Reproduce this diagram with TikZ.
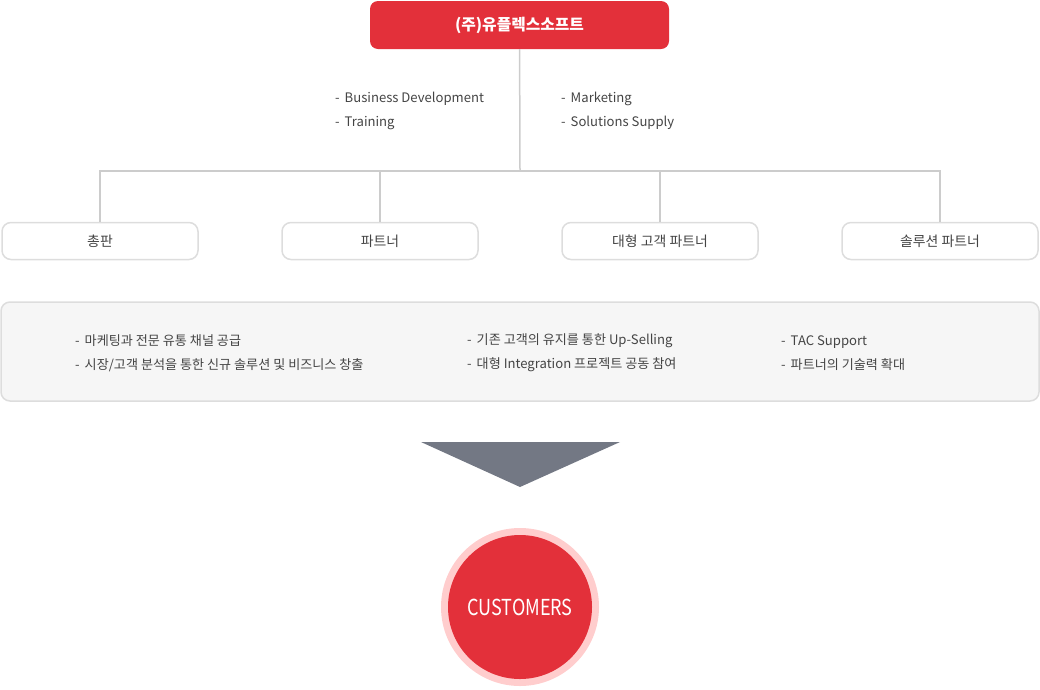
\documentclass[tikz,border=0pt]{standalone}
\usepackage{fontspec}
\setmainfont{Noto Sans CJK KR}
\usetikzlibrary{positioning}
\definecolor{upred}{HTML}{E3303A}
\definecolor{uppink}{HTML}{FFCDCD}
\definecolor{upline}{HTML}{CCCCCC}
\definecolor{upframe}{HTML}{DDDDDD}
\definecolor{uppanel}{HTML}{F6F6F6}
\definecolor{uptext}{HTML}{444444}
\definecolor{uparrow}{HTML}{737884}

\begin{document}
\begin{tikzpicture}[x=1pt, y=-1pt, node distance=280pt,
    headbox/.style={rectangle, rounded corners=8pt, fill=upred, text=white,
      minimum width=299pt, minimum height=48pt, font=\fontsize{15.8}{18}\selectfont\bfseries},
    subbox/.style={rectangle, rounded corners=9pt, draw=upframe, line width=1.5pt, fill=white,
      text=uptext, minimum width=196pt, minimum height=37pt, font=\fontsize{13.9}{16}\selectfont},
    note/.style={anchor=west, text=uptext, align=left, inner sep=0pt,
      font=\fontsize{13.1}{24}\selectfont},
    link/.style={draw=upline, line width=1.5pt}]
  \useasboundingbox (0,0) rectangle (1040,689);

  % company
  \node[headbox] (Uplex) at (519.5,25) {(주)유플렉스소프트};
  \coordinate (Hub) at (520,171);

  % roles
  \node[note] (RoleL) at (335,111) {-\hspace{5pt}Business Development\\-\hspace{5pt}Training};
  \node[note] (RoleR) at (561,111) {-\hspace{5pt}Marketing\\-\hspace{5pt}Solutions Supply};

  % channels
  \node[subbox] (Dist) at (100,241) {총판};
  \node[subbox] (Part) [right of=Dist] {파트너};
  \node[subbox] (Major) [right of=Part] {대형 고객 파트너};
  \node[subbox] (Solu) [right of=Major] {솔루션 파트너};

  \draw[link] (Uplex) -- (Hub);
  \draw[link] (Hub) -| (Dist);
  \draw[link] (Hub) -| (Part);
  \draw[link] (Hub) -| (Major);
  \draw[link] (Hub) -| (Solu);

  % benefits
  \draw[draw=upframe, fill=uppanel, line width=1.5pt, rounded corners=9pt]
    (1,302) rectangle (1039,401);
  \node[note] (BenA) at (75,353) {-\hspace{5pt}마케팅과 전문 유통 채널 공급\\-\hspace{5pt}시장/고객 분석을 통한 신규 솔루션 및 비즈니스 창출};
  \node[note] (BenB) at (467,353) {-\hspace{5pt}기존 고객의 유지를 통한 Up-Selling\\-\hspace{5pt}대형 Integration 프로젝트 공동 참여};
  \node[note] (BenC) at (781,353) {-\hspace{5pt}TAC Support\\-\hspace{5pt}파트너의 기술력 확대};

  % to customers
  \fill[uparrow] (421,442) -- (620,442) -- (520,487) -- cycle;
  \fill[uppink] (520,607) circle (79);
  \node[circle, fill=upred, minimum size=144pt, text=white,
    font=\fontsize{22}{26}\selectfont] (Cust) at (520,607) {\scalebox{0.82}[1]{CUSTOMERS}};
\end{tikzpicture}
\end{document}
